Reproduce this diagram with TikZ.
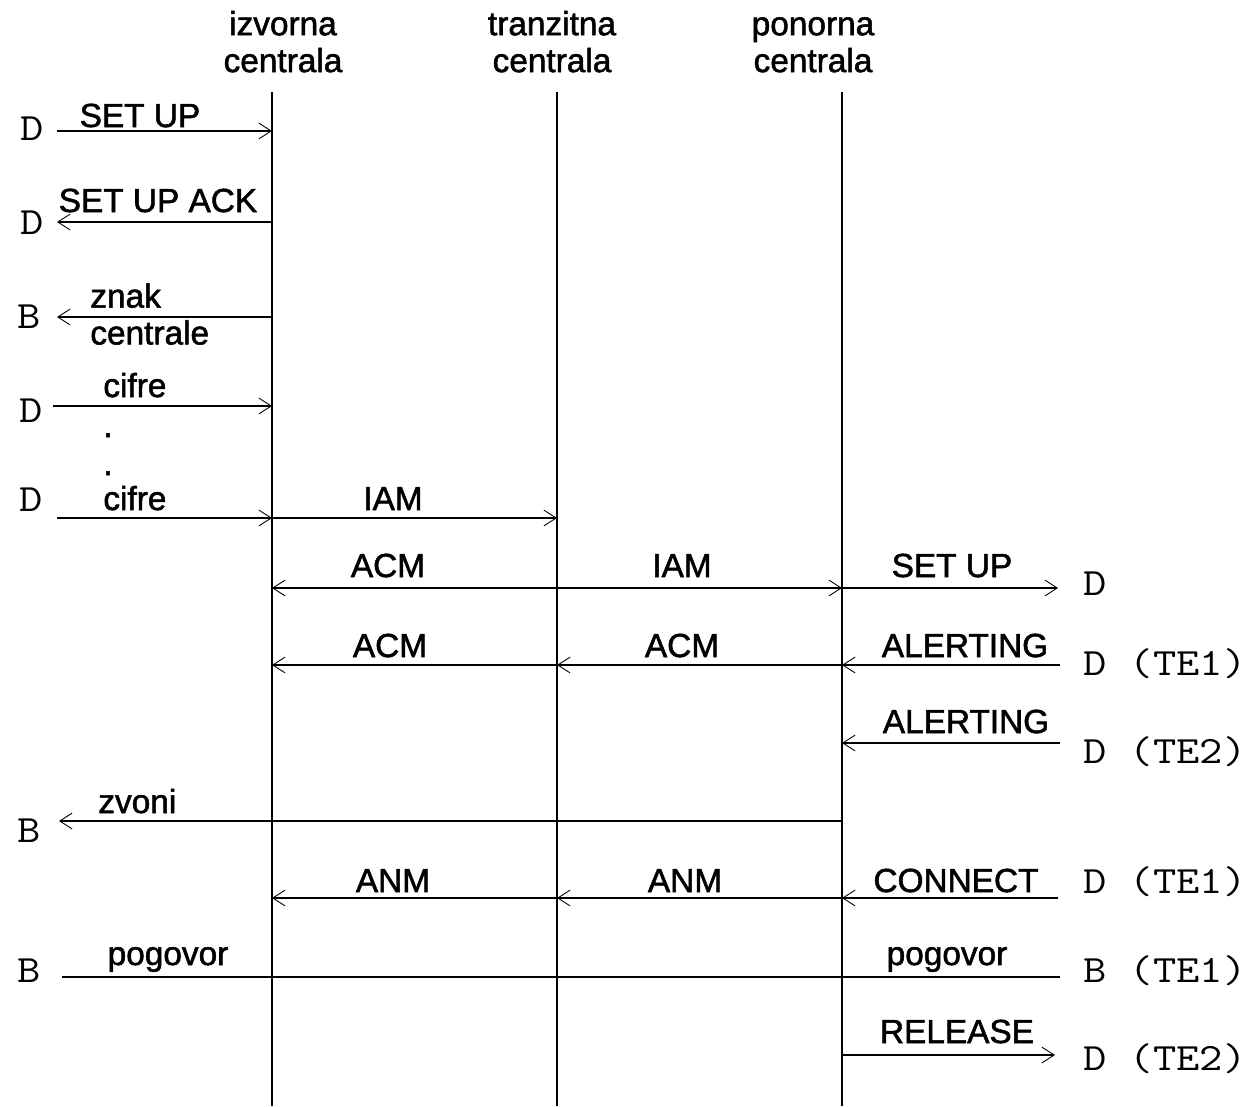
\documentclass[tikz,border=0pt]{standalone}
\usepackage{fontspec}
\setmainfont{Liberation Sans}
\newfontfamily\lblfont[FakeBold=1.6]{Liberation Sans}
\newfontfamily\termfont[FakeStretch=1.17]{Latin Modern Mono}
\usetikzlibrary{arrows.meta}
\tikzset{
  life/.style={line width=0.9pt},
  msg/.style={line width=0.9pt, -{Straight Barb[length=7pt,width=9pt,line width=0.5pt]}},
  lbl/.style={font=\lblfont\fontsize{19}{21}\selectfont, inner sep=0pt, anchor=base},
  head/.style={lbl, align=center, anchor=north},
  term/.style={font=\termfont\fontsize{22}{24}\selectfont, inner sep=0pt, anchor=base west},
}
\begin{document}
\begin{tikzpicture}[x=0.02cm, y=-0.02cm]
    \useasboundingbox (0,0) rectangle (1251,1106);
    \node[head] (h-izv) at (283,9) {\strut izvorna\\centrala};
    \node[head] (h-tra) at (552,9) {\strut tranzitna\\centrala};
    \node[head] (h-pon) at (813,9) {\strut ponorna\\centrala};
    \foreach \n/\x in {izv/272, tra/557, pon/842} {
        \coordinate (\n) at (\x,92);
        \draw[life] (\n) -- (\x,1106);
    }
    % strana izvorne centrale
    \node[term] (d1) at (20,140) {D};
    \coordinate (e1) at (57,131);
    \draw[msg] (e1) -- (izv |- e1);
    \node[lbl] (t1) at (140,127) {SET UP};
    \node[term] (d2) at (20,234) {D};
    \coordinate (e2) at (57,222);
    \draw[msg] (izv |- e2) -- (e2);
    \node[lbl] (t2) at (158,212) {SET UP ACK};
    \node[term] (b3) at (17,328) {B};
    \coordinate (e3) at (57,317);
    \draw[msg] (izv |- e3) -- (e3);
    \node[lbl, align=left, anchor=north west] (t3) at (90,283) {znak\\centrale};
    \node[term] (d4) at (19,422) {D};
    \coordinate (e4) at (53,406);
    \draw[msg] (e4) -- (izv |- e4);
    \node[lbl, anchor=base west] (t4) at (103,397) {cifre};
    \node[lbl] (dot1) at (108,437) {.};
    \node[lbl] (dot2) at (108,475) {.};
    \node[term] (d6) at (19,511) {D};
    \coordinate (e6) at (57,518);
    \draw[msg] (e6) -- (izv |- e6);
    \draw[msg] (izv |- e6) -- (tra |- e6);
    \node[lbl, anchor=base west] (t6) at (103,510) {cifre};
    \node[lbl] (iam1) at (393,510) {IAM};
    % strana ponorne centrale
    \coordinate (e7) at (1058,588);
    \draw[msg] (tra |- e7) -- (izv |- e7);
    \draw[msg] (tra |- e7) -- (pon |- e7);
    \draw[msg] (pon |- e7) -- (e7);
    \node[lbl] (acm1) at (388,577) {ACM};
    \node[lbl] (iam2) at (682,577) {IAM};
    \node[lbl] (t7) at (952,577) {SET UP};
    \node[term] (d7) at (1083,595) {D};
    \coordinate (e8) at (1060,665);
    \draw[msg] (e8) -- (pon |- e8);
    \draw[msg] (pon |- e8) -- (tra |- e8);
    \draw[msg] (tra |- e8) -- (izv |- e8);
    \node[lbl] (acm2) at (390,657) {ACM};
    \node[lbl] (acm3) at (682,657) {ACM};
    \node[lbl] (t8) at (965,657) {ALERTING};
    \node[term] (d8) at (1083,675) {D (TE1)};
    \coordinate (e9) at (1060,743);
    \draw[msg] (e9) -- (pon |- e9);
    \node[lbl] (t9) at (966,733) {ALERTING};
    \node[term] (d9) at (1083,763) {D (TE2)};
    \coordinate (e10) at (59,821);
    \draw[msg] (pon |- e10) -- (e10);
    \node[lbl, anchor=base west] (t10) at (98,813) {zvoni};
    \node[term] (b10) at (17,842) {B};
    \coordinate (e11) at (1058,898);
    \draw[msg] (e11) -- (pon |- e11);
    \draw[msg] (pon |- e11) -- (tra |- e11);
    \draw[msg] (tra |- e11) -- (izv |- e11);
    \node[lbl] (anm1) at (393,892) {ANM};
    \node[lbl] (anm2) at (685,892) {ANM};
    \node[lbl] (t11) at (956,892) {CONNECT};
    \node[term] (d11) at (1083,893) {D (TE1)};
    \coordinate (e12a) at (62,977);
    \coordinate (e12b) at (1060,977);
    \draw[life] (e12a) -- (e12b);
    \node[term] (b12) at (17,982) {B};
    \node[lbl] (t12a) at (168,965) {pogovor};
    \node[lbl] (t12b) at (947,965) {pogovor};
    \node[term] (b12b) at (1083,982) {B (TE1)};
    \coordinate (e13) at (1055,1055);
    \draw[msg] (pon |- e13) -- (e13);
    \node[lbl] (t13) at (957,1043) {RELEASE};
    \node[term] (d13) at (1083,1070) {D (TE2)};
\end{tikzpicture}
\end{document}
